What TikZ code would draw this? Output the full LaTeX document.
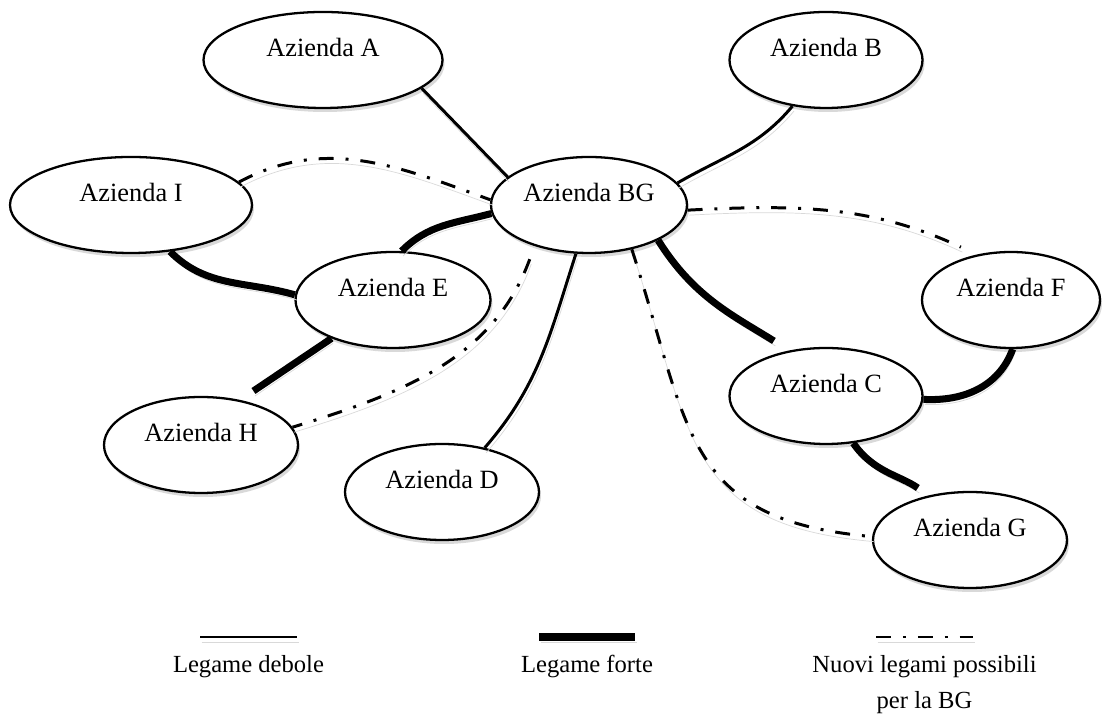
\documentclass[tikz,border=0pt]{standalone}
\usepackage{fontspec}
\setmainfont{Liberation Serif}
\usetikzlibrary{shapes.geometric,shadows}

\begin{document}
\begin{tikzpicture}
\tikzstyle{v} = [ellipse, draw=black, line width=1.3pt, fill=white, inner sep=0pt,
  minimum height=1.92cm, text height=10pt, text depth=13.6pt,
  font=\fontsize{15}{22}\selectfont,
  drop shadow={shadow xshift=0.04cm, shadow yshift=-0.08cm, opacity=0.3}]
\tikzstyle{sh} = [preaction={draw=black!15, transform canvas={xshift=0.03cm, yshift=-0.1cm}}]
\tikzstyle{weak} = [sh, draw=black, line width=1.7pt]
\tikzstyle{strong} = [sh, draw=black, line width=4pt]
\tikzstyle{new} = [sh, draw=black, line width=1.7pt, dash pattern=on 8.5pt off 6.8pt on 1.7pt off 6.8pt]
\tikzstyle{legend} = [anchor=north, inner sep=0pt, align=center, font=\fontsize{14}{20.5}\selectfont]

\useasboundingbox (0,0) rectangle (22.18,14.30);

\node[v, minimum width=4.78cm] (A) at (6.46, 13.10) {Azienda A};
\node[v, minimum width=3.86cm] (B) at (16.52, 13.10) {Azienda B};
\node[v, minimum width=4.84cm] (I) at (2.62, 10.20) {Azienda I};
\node[v, minimum width=3.92cm] (BG) at (11.78, 10.20) {Azienda BG};
\node[v, minimum width=3.90cm] (E) at (7.86, 8.30) {Azienda E};
\node[v, minimum width=3.56cm] (F) at (20.22, 8.30) {Azienda F};
\node[v, minimum width=3.86cm] (C) at (16.52, 6.38) {Azienda C};
\node[v, minimum width=3.88cm] (H) at (4.02, 5.40) {Azienda H};
\node[v, minimum width=3.88cm] (D) at (8.84, 4.46) {Azienda D};
\node[v, minimum width=3.88cm] (G) at (19.40, 3.50) {Azienda G};

% legami deboli
\draw[weak] (A.-16) -- (BG.161);
\draw[weak] (BG.14) to[out=30, in=230] (B.-126);
\draw[weak] (BG.-105) to[out=-108, in=49] (D.46);

% legami forti
\draw[strong] (I.-50) to[out=-45, in=164] (E.177);
\draw[strong] (E.80) to[out=45, in=195] (BG.185);
\draw[strong, shorten >=0.32cm] (E.212) -- (H.49);
\draw[strong, shorten >=0.36cm] (BG.-27) to[out=-58, in=148] (C.129);
\draw[strong] (C.-2) to[out=-3, in=-110] (F.-88);
\draw[strong, shorten >=0.26cm] (C.-60) to[out=-55, in=145] (G.133);

% nuovi legami
\draw[new] (I.12) to[out=28, in=160] (BG.177);
\draw[new, shorten >=0.35cm] (BG.-3) to[out=3, in=155] (F.127);
\draw[new, shorten <=0.28cm] (BG.217) to[out=-110, in=17] (H.11);
\draw[new] (BG.-46) to[out=-72, in=175, looseness=1.3] (G.178);

% legenda
\draw[weak] (4.00,1.56) -- (5.94,1.56);
\draw[strong] (10.78,1.56) -- (12.70,1.56);
\draw[new] (17.52,1.56) -- (19.46,1.56);
\node[legend] (L1) at (4.97,1.20) {Legame debole};
\node[legend] (L2) at (11.74,1.20) {Legame forte};
\node[legend] (L3) at (18.49,1.20) {Nuovi legami possibili\\per la BG};
\end{tikzpicture}
\end{document}
